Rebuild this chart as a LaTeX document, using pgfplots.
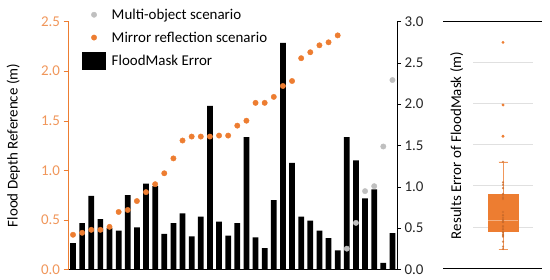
\documentclass[border=0pt]{standalone}
\usepackage{fontspec}
\setmainfont{Carlito}
\usepackage{pgfplots}
\usepackage{pgfplotstable}
\pgfplotsset{compat=1.18}
\usepgfplotslibrary{statistics}
\definecolor{xlorange}{RGB}{237,125,49}
\definecolor{xlgray}{RGB}{191,191,191}
\definecolor{ticklab}{RGB}{240,150,90}

\pgfplotsset{
  dotlegend/.style={legend image code/.code={\draw[mark repeat=2,mark phase=2,##1] plot coordinates {(0bp,0bp) (11.5bp,0bp) (23bp,0bp)};}},
  barlegend/.style={legend image code/.code={\fill[black] (0bp,-8.5bp) rectangle (23bp,8.5bp);}},
}

% FloodMask error per sample (right axis, m)
\pgfplotstableread{
idx err
1 0.32
2 0.56
3 0.89
4 0.61
5 0.50
6 0.47
7 0.90
8 0.51
9 1.04
10 1.01
11 0.43
12 0.56
13 0.68
14 0.40
15 0.64
16 1.98
17 0.58
18 0.41
19 0.56
20 1.60
21 0.39
22 0.26
23 0.84
24 2.74
25 1.29
26 0.64
27 0.59
28 0.47
29 0.38
30 0.23
31 1.60
32 1.32
33 0.86
34 0.97
35 0.08
36 0.44
}\errtab

% mirror reflection scenario, reference depth (left axis, m)
\pgfplotstableread{
idx depth
1 0.35
2 0.37
3 0.40
4 0.40
5 0.43
6 0.58
7 0.60
8 0.69
9 0.78
10 0.86
11 0.97
12 1.12
13 1.30
14 1.34
15 1.34
16 1.34
17 1.35
18 1.35
19 1.45
20 1.50
21 1.68
22 1.68
23 1.74
24 1.85
25 1.90
26 2.13
27 2.19
28 2.26
29 2.29
30 2.36
}\mirrortab

% multi-object scenario
\pgfplotstableread{
idx depth
31 0.21
32 0.47
33 0.79
34 0.84
35 1.24
36 1.91
}\multitab

\newcommand{\bigfont}{\fontsize{15}{18}\selectfont}

\begin{document}
\begin{tikzpicture}
\useasboundingbox (0bp,0bp) rectangle (550bp,280bp);

% bars, right axis
\begin{axis}[
  at={(68bp,10.5bp)}, anchor=south west, scale only axis,
  width=329bp, height=248bp,
  xmin=0.45, xmax=36.5, ymin=0, ymax=3,
  axis x line=none, axis y line*=right,
  ytick={0,0.5,1,1.5,2,2.5,3},
  yticklabel style={/pgf/number format/.cd, fixed, fixed zerofill, precision=1, assume math mode=true},
  tick label style={font=\bigfont, black!85},
  tick align=outside, major tick length=4bp,
  ytick style={black},
  every axis y label/.style={at={(rel axis cs:1,0.5)}, xshift=59.7bp, rotate=90, anchor=center, font=\bigfont},
  ylabel={Results Error of FloodMask (m)},
]
\addplot[ybar, bar width=5.7bp, fill=black, draw=none] table[x=idx, y=err] {\errtab};
\end{axis}

% dots, left axis
\begin{axis}[
  at={(68bp,10.5bp)}, anchor=south west, scale only axis,
  width=329bp, height=248bp,
  xmin=0.45, xmax=36.5, ymin=0, ymax=2.5,
  axis y line*=left, axis x line*=bottom,
  xtick=\empty,
  ytick={0,0.5,1,1.5,2,2.5},
  yticklabel style={/pgf/number format/.cd, fixed, fixed zerofill, precision=1, assume math mode=true},
  tick label style={font=\bigfont, ticklab},
  tick align=outside, major tick length=4.5bp,
  ytick style={xlorange},
  y axis line style={xlorange},
  x axis line style={black},
  every axis y label/.style={at={(rel axis cs:0,0.5)}, xshift=-54.7bp, rotate=90, anchor=center, font=\bigfont},
  ylabel={Flood Depth Reference (m)},
  legend style={at={(0.043,1.06)}, anchor=north west, draw=none, fill=none, font=\bigfont,
    row sep=7bp, inner sep=0pt, /tikz/every odd column/.append style={column sep=4bp}},
  legend cell align=left,
]
\addplot[only marks, mark=*, mark size=2.7bp, color=xlgray, dotlegend]
  table[x=idx, y=depth] {\multitab};
\addlegendentry{Multi-object scenario}
\addplot[only marks, mark=*, mark size=2.7bp, color=xlorange, dotlegend]
  table[x=idx, y=depth] {\mirrortab};
\addlegendentry{Mirror reflection scenario}
\addlegendimage{barlegend}
\addlegendentry{FloodMask Error}
\end{axis}

% box plot panel
\draw[black, line width=0.9bp] (443bp,259bp) -- (542bp,259bp);
\draw[black, line width=0.9bp] (443bp,12bp) -- (542bp,12bp);
\begin{axis}[
  at={(473bp,12bp)}, anchor=south west, scale only axis,
  width=60bp, height=247bp,
  xmin=0, xmax=2, ymin=0, ymax=3,
  xtick=\empty, ytick={0.5,1,1.5,2,2.5}, yticklabels={},
  major tick length=0pt,
  axis line style={draw=none},
  ymajorgrids, grid style={black!12, line width=0.6bp},
  boxplot/draw direction=y,
]
\addplot+[boxplot prepared={draw position=1, median=0.58, upper quartile=0.90,
    lower quartile=0.44, upper whisker=1.29, lower whisker=0.23,
    box extend=1, whisker extend=0.3},
  draw=xlorange, fill=xlorange, solid, line width=0.6bp,
  mark=*, mark size=1.1bp, mark options={fill=xlorange, draw=xlorange},
  boxplot/every whisker/.style={draw=xlorange!80!white, line width=0.5bp},
  boxplot/every median/.style={draw=xlorange!60!white, line width=0.5bp}]
  coordinates {(0,1.60) (0,1.98) (0,2.74)};
\addplot[only marks, mark=*, mark size=0.9bp, color=xlorange!85!black, opacity=0.6,
  restrict y to domain=0.2:1.3]
  table[x expr=1, y=err] {\errtab};
\end{axis}
\end{tikzpicture}
\end{document}
